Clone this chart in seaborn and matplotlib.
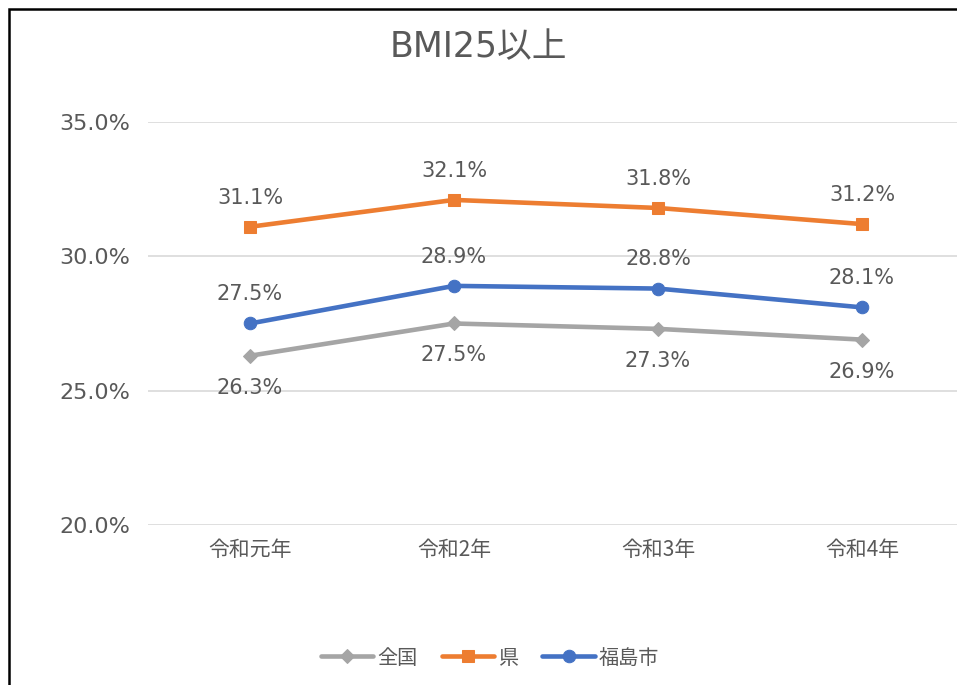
import pandas as pd
import numpy as np
import matplotlib
matplotlib.use("Agg")
import matplotlib.pyplot as plt
import seaborn as sns
from matplotlib.patches import Rectangle

# data
years = ["令和元年", "令和2年", "令和3年", "令和4年"]
zenkoku = [26.3, 27.5, 27.3, 26.9]
ken = [31.1, 32.1, 31.8, 31.2]
fukushima = [27.5, 28.9, 28.8, 28.1]
series_names = ["全国", "県", "福島市"]

colors = {"全国": "#A5A5A5", "県": "#ED7D31", "福島市": "#4472C4"}
markers = {"全国": "D", "県": "s", "福島市": "o"}
msizes = {"全国": 7, "県": 9, "福島市": 9}
label_offset = {"全国": -23, "県": 21, "福島市": 21}

df = pd.DataFrame({
    "year": years * 3,
    "series": np.repeat(series_names, len(years)),
    "value": zenkoku + ken + fukushima,
})

sns.set_style("white")
# latin digits in DejaVu (wider, like the original), CJK falls back to Noto
plt.rcParams['font.family'] = ['DejaVu Sans', 'Noto Sans CJK JP']
text_col = "#595959"

fig = plt.figure(figsize=(9.57, 6.85), dpi=100)
ax = fig.add_axes([148/957, 1-525/685, 816/957, (525-122)/685])

for name in series_names:
    sub = df[df.series == name]
    sns.lineplot(data=sub, x="year", y="value", ax=ax, color=colors[name],
                 marker=markers[name], markersize=msizes[name], linewidth=3.3,
                 markeredgecolor=colors[name], label=name, sort=False)
    for i, v in enumerate(sub["value"]):
        ax.annotate(f"{v:.1f}%", (i, v), textcoords="offset points",
                    xytext=(0, label_offset[name]), ha="center", va="center",
                    fontsize=15, color=text_col)

ax.set_xlim(-0.5, 3.5)
ax.set_ylim(20, 35)
ax.set_yticks([20, 25, 30, 35])
ax.set_yticklabels([f"{t:.1f}%" for t in [20, 25, 30, 35]])
ax.grid(axis="y", color="#D9D9D9", linewidth=1.2)
ax.set_axisbelow(True)
for s in ax.spines.values():
    s.set_visible(False)
ax.tick_params(axis="y", labelsize=16, labelcolor=text_col, length=0, pad=13)
ax.tick_params(axis="x", labelsize=15, labelcolor=text_col, length=0, pad=10)
for lab in ax.get_xticklabels():
    lab.set_family(['Noto Sans CJK JP', 'DejaVu Sans'])
ax.set_xlabel("")
ax.set_ylabel("")

fig.text(0.5, 1-47/685, "BMI25以上", ha="center", va="center", fontsize=25, color=text_col)

ax.legend(loc="center", bbox_to_anchor=(490/957, 1-658/685), bbox_transform=fig.transFigure,
          ncol=3, frameon=False, fontsize=14.5, handlelength=2.6, columnspacing=1.2,
          handletextpad=0.2, labelcolor=text_col, prop={'family': ['Noto Sans CJK JP'], 'size': 14.5})

# outer frame (right and bottom run off the image)
fig.patches.append(Rectangle((9/957, -0.1), 1.2, 1.1 - 9/685, transform=fig.transFigure,
                             fill=False, edgecolor="black", linewidth=1.8))

fig.savefig("out.png", dpi=100)
